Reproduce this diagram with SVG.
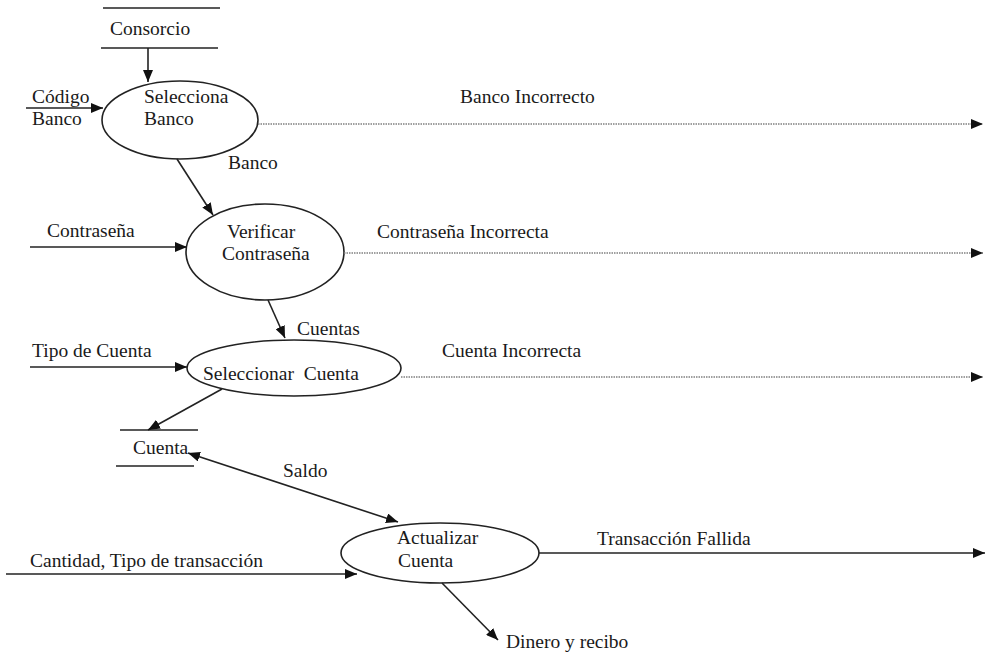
<svg xmlns="http://www.w3.org/2000/svg" width="988" height="654" viewBox="0 0 988 654">
  <style>
    text { font-family: "Liberation Serif", "Times New Roman", serif; font-size: 19.5px; fill: #1a1a1a; }
    .proc { fill: #ffffff; stroke: #222222; stroke-width: 1.6; }
    .store { stroke: #222222; stroke-width: 1.6; }
    .flow { fill: none; stroke: #222222; stroke-width: 1.6; }
    .err { fill: none; stroke: #808080; stroke-width: 1.4; stroke-dasharray: 1.5 1; }
  </style>
  <defs>
    <marker id="arrow" viewBox="0 0 12 10" refX="12" refY="5" markerWidth="12" markerHeight="10" markerUnits="userSpaceOnUse" orient="auto-start-reverse">
      <path d="M0,0 L12,5 L0,10 Z" fill="#111111"/>
    </marker>
  </defs>
  <rect width="988" height="654" fill="#ffffff"/>

  <!-- data stores -->
  <g id="store-consorcio">
    <line class="store" x1="103" y1="8" x2="220" y2="8"/>
    <line class="store" x1="101" y1="48" x2="218" y2="48"/>
    <text x="110" y="35">Consorcio</text>
  </g>
  <g id="store-cuenta">
    <line class="store" x1="120" y1="430" x2="198" y2="430"/>
    <line class="store" x1="116" y1="466" x2="194" y2="466"/>
    <text x="133" y="454">Cuenta</text>
  </g>

  <!-- processes -->
  <g id="proc-selecciona-banco">
    <ellipse class="proc" cx="180" cy="120" rx="78" ry="39"/>
    <text x="144" y="103">Selecciona</text>
    <text x="144" y="125">Banco</text>
  </g>
  <g id="proc-verificar">
    <ellipse class="proc" cx="265" cy="252" rx="79" ry="48"/>
    <text x="227" y="238">Verificar</text>
    <text x="222" y="260">Contraseña</text>
  </g>
  <g id="proc-seleccionar-cuenta">
    <ellipse class="proc" cx="294" cy="368" rx="107" ry="28"/>
    <text x="203" y="380" xml:space="preserve">Seleccionar  Cuenta</text>
  </g>
  <g id="proc-actualizar">
    <ellipse class="proc" cx="440" cy="553" rx="99" ry="30"/>
    <text x="397" y="544">Actualizar</text>
    <text x="398" y="567">Cuenta</text>
  </g>

  <!-- flows -->
  <g id="connectors">
    <line class="flow" x1="148" y1="48" x2="148" y2="82" marker-end="url(#arrow)"/>
    <line class="flow" x1="26" y1="108" x2="103" y2="108" marker-end="url(#arrow)"/>
    <line class="err" x1="258" y1="124" x2="983" y2="124" marker-end="url(#arrow)"/>
    <line class="flow" x1="177" y1="159" x2="213" y2="215" marker-end="url(#arrow)"/>
    <line class="flow" x1="30" y1="247" x2="187" y2="247" marker-end="url(#arrow)"/>
    <line class="err" x1="344" y1="253" x2="983" y2="253" marker-end="url(#arrow)"/>
    <line class="flow" x1="268" y1="300" x2="285" y2="338" marker-end="url(#arrow)"/>
    <line class="flow" x1="30" y1="367" x2="187" y2="367" marker-end="url(#arrow)"/>
    <line class="err" x1="401" y1="377" x2="983" y2="377" marker-end="url(#arrow)"/>
    <line class="flow" x1="222" y1="389" x2="148" y2="430" marker-end="url(#arrow)"/>
    <line class="flow" x1="188" y1="453" x2="398" y2="522" marker-start="url(#arrow)" marker-end="url(#arrow)"/>
    <line class="flow" x1="6" y1="574" x2="357" y2="574" marker-end="url(#arrow)"/>
    <line class="flow" x1="539" y1="553" x2="985" y2="553" marker-end="url(#arrow)"/>
    <line class="flow" x1="442" y1="583" x2="498" y2="640" marker-end="url(#arrow)"/>
  </g>

  <!-- flow labels -->
  <g id="labels">
    <text x="32" y="103">Código</text>
    <text x="32" y="125">Banco</text>
    <text x="460" y="103">Banco Incorrecto</text>
    <text x="228" y="169">Banco</text>
    <text x="47" y="237">Contraseña</text>
    <text x="377" y="238">Contraseña Incorrecta</text>
    <text x="297" y="335">Cuentas</text>
    <text x="32" y="357">Tipo de Cuenta</text>
    <text x="442" y="357">Cuenta Incorrecta</text>
    <text x="283" y="477">Saldo</text>
    <text x="30" y="567">Cantidad, Tipo de transacción</text>
    <text x="597" y="545">Transacción Fallida</text>
    <text x="506" y="648">Dinero y recibo</text>
  </g>
</svg>
